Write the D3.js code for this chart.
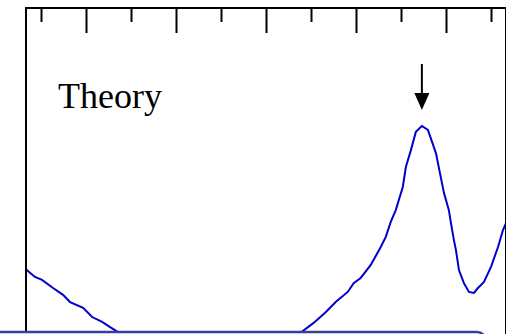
<!DOCTYPE html>
<html lang="en">
<head>
    <meta charset="UTF-8">
    <title>Theory</title>
    <script src="https://d3js.org/d3.v7.min.js"></script>
    <style>
        html, body { margin: 0; padding: 0; background: #fff; }
        svg { display: block; }
        .frame { fill: none; stroke: #000; stroke-width: 2; }
        .ticks .tick line { stroke: #000; stroke-width: 2; }
        .ticks .domain { display: none; }
        .curve { fill: none; stroke: #0000cd; stroke-width: 2; }
        .label { font-family: "Liberation Serif", "Times New Roman", serif; font-size: 36px; }
    </style>
</head>
<body>
    <svg id="chart"></svg>

    <script>
        // spectrum (x in axis units, y in arbitrary intensity)
        var xValues = [0.333, 0.355, 0.433, 0.511, 0.634, 0.745, 0.823, 0.968, 1.068, 1.179, 1.268, 1.357,
            1.602, 1.937, 2.271, 2.605, 2.939, 3.217,
            3.395, 3.529, 3.663, 3.774, 3.908, 3.974, 4.052, 4.164, 4.275, 4.331, 4.386, 4.442, 4.476,
            4.520, 4.554, 4.610, 4.665, 4.732, 4.799, 4.888, 4.977, 5.032, 5.055, 5.088, 5.110, 5.144,
            5.199, 5.255, 5.311, 5.355, 5.422, 5.500, 5.578, 5.633, 5.667];
        var yValues = [19.9, 19.3, 17.5, 16.6, 14.1, 12.0, 9.8, 8.0, 5.2, 3.7, 2.1, 0.6,
            -3.4, -8.0, -10.4, -11.7, -9.8, -4.9,
            0.6, 3.4, 6.7, 9.8, 12.9, 15.6, 17.2, 21.2, 26.7, 29.8, 34.4, 38.0, 41.1,
            45.1, 51.2, 56.4, 62.0, 63.8, 62.6, 55.5, 43.3, 38.0, 34.0, 28.8, 25.8, 19.6,
            15.6, 12.9, 12.6, 14.1, 16.0, 20.6, 26.7, 31.9, 34.0];
        var majorTicks = [1, 2, 3, 4, 5];
        var minorTicks = [0.5, 1.5, 2.5, 3.5, 4.5, 5.5];
        var labelText = "Theory";
        var arrowAt = 4.732;

        var width = 506, height = 334;
        var plotLeft = 26, plotRight = 506, plotTop = 8, plotBottom = 332;

        var svg = d3.select("#chart")
            .attr("width", width)
            .attr("height", height);

        var x = d3.scaleLinear()
            .domain([1 / 3, 17 / 3])
            .range([plotLeft, plotRight]);

        var y = d3.scaleLinear()
            .domain([0, 100])
            .range([334, 8]);

        var data = xValues.map(function(d, i) { return [d, yValues[i]]; });

        var line = d3.line()
            .x(function(d) { return x(d[0]); })
            .y(function(d) { return y(d[1]); });

        svg.append("path")
            .datum(data)
            .attr("class", "curve")
            .attr("d", line);

        // frame
        svg.append("rect")
            .attr("class", "frame")
            .attr("x", plotLeft)
            .attr("y", plotTop)
            .attr("width", plotRight - plotLeft)
            .attr("height", plotBottom - plotTop + 20);

        // inward ticks on top edge
        svg.append("g")
            .attr("class", "ticks")
            .attr("transform", "translate(0," + plotTop + ")")
            .call(d3.axisTop(x).tickValues(majorTicks).tickSize(-25).tickFormat(""));

        svg.append("g")
            .attr("class", "ticks")
            .attr("transform", "translate(0," + plotTop + ")")
            .call(d3.axisTop(x).tickValues(minorTicks).tickSize(-14).tickFormat(""));

        svg.append("text")
            .attr("class", "label")
            .attr("x", 58)
            .attr("y", 108)
            .text(labelText);

        // arrow marking the peak
        var ax = x(arrowAt);
        svg.append("line")
            .attr("x1", ax).attr("x2", ax)
            .attr("y1", 64).attr("y2", 96)
            .attr("stroke", "#000")
            .attr("stroke-width", 2);
        svg.append("path")
            .attr("d", "M" + (ax - 7.5) + ",93 L" + (ax + 7.5) + ",93 L" + ax + ",110 Z")
            .attr("fill", "#000");

        // edge of the box below
        svg.append("rect")
            .attr("x", -12)
            .attr("y", 332)
            .attr("width", 498)
            .attr("height", 40)
            .attr("rx", 9)
            .attr("fill", "#fff")
            .attr("stroke", "#3d3d9c")
            .attr("stroke-width", 2.5);
    </script>
</body>
</html>
